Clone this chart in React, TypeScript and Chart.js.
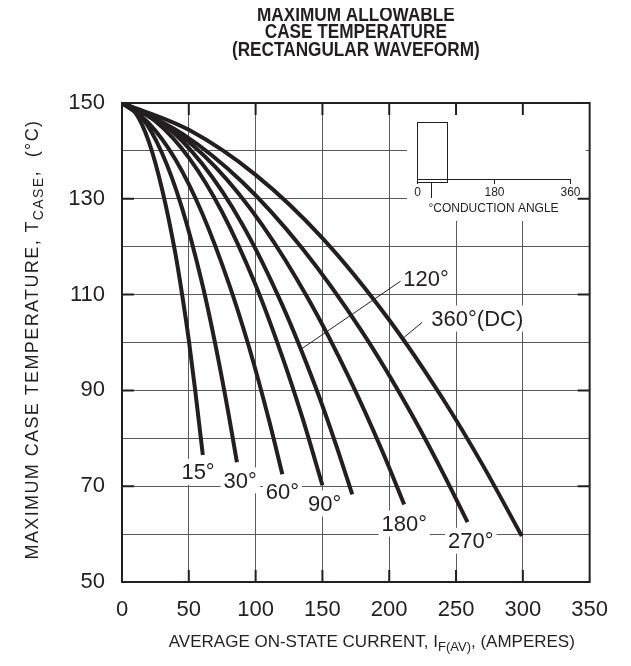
import React, { useEffect, useRef } from 'react';
import { Chart, registerables } from 'chart.js';

Chart.register(...registerables);

const FONT = '"Liberation Sans", Arial, Helvetica, sans-serif';
const INK = '#231f20';
const GRID = '#5a5a5a';

// ---- data ----
const titleLines = ['MAXIMUM ALLOWABLE', 'CASE TEMPERATURE', '(RECTANGULAR WAVEFORM)'];
const xTickValues = [0, 50, 100, 150, 200, 250, 300, 350];
const yLabelledTicks = [50, 70, 90, 110, 130, 150];

const curveNames = ['15°', '30°', '60°', '90°', '120°', '180°', '270°', '360°(DC)'];

const i15 = [0, 10, 20, 30, 40, 45, 50, 55, 60.5];
const t15 = [150, 148, 142, 132, 118.5, 110, 100.5, 89.5, 76.5];

const i30 = [0, 15, 30, 45, 60, 70, 80, 86];
const t30 = [150, 146.9, 139.5, 128, 112.3, 99.4, 84.7, 75];

const i60 = [0, 20, 40, 60, 80, 95, 110, 120];
const t60 = [150, 145.8, 138.2, 127, 112.3, 99.1, 83.8, 72.5];

const i90 = [0, 25, 50, 75, 100, 120, 135, 150];
const t90 = [150, 146.2, 138.6, 127.2, 112, 97, 84.3, 70.2];

const i120 = [0, 30, 60, 90, 120, 145, 160, 172.3];
const t120 = [150, 145.8, 137.3, 124.7, 107.8, 90.6, 78.8, 68.3];

const i180 = [0, 35, 70, 105, 140, 170, 195, 211.2];
const t180 = [150, 145, 136.6, 124.5, 108.8, 92.6, 77.2, 66.2];

const i270 = [0, 45, 90, 135, 180, 215, 240, 258.6];
const t270 = [150, 143.6, 133.5, 119.6, 102.1, 85.9, 72.9, 62.5];

const i360 = [0, 50, 100, 150, 200, 240, 270, 299.2];
const t360 = [150, 144.4, 135, 121.8, 104.7, 88.3, 74.4, 59.6];

// curve label anchors (current, temperature)
const labelI = [56.9, 88.5, 120.1, 151.7, 227.5, 211.2, 261.0, 265.9];
const labelT = [73.0, 71.2, 68.8, 66.4, 113.2, 62.2, 58.6, 105.0];

// leader lines for 120° and 360°(DC)
const leaderStartI = [208.5, 224.6];
const leaderStartT = [112.8, 104.2];
const leaderEndI = [133.5, 211.2];
const leaderEndT = [98.5, 101.1];

// inset axis labels
const insetTicks = ['0', '180', '360'];
const insetTitle = '°CONDUCTION ANGLE';

const series = [
  [i15, t15], [i30, t30], [i60, t60], [i90, t90],
  [i120, t120], [i180, t180], [i270, t270], [i360, t360],
];

function drawRich(ctx: CanvasRenderingContext2D, parts: [string, boolean][], x: number, y: number, size: number, targetLen?: number) {
  const big = `${size}px ${FONT}`;
  const small = `${Math.round(size * 0.75)}px ${FONT}`;
  (ctx as any).letterSpacing = '0px';
  let total = 0;
  let chars = 0;
  parts.forEach(([t, sub]) => {
    ctx.font = sub ? small : big;
    total += ctx.measureText(t).width;
    chars += t.length;
  });
  let spacing = 0;
  if (targetLen && targetLen > total) spacing = (targetLen - total) / chars;
  (ctx as any).letterSpacing = `${spacing}px`;
  const full = total + spacing * chars;
  let cx = x - full / 2;
  ctx.textAlign = 'left';
  ctx.textBaseline = 'middle';
  parts.forEach(([t, sub]) => {
    ctx.font = sub ? small : big;
    ctx.fillText(t, cx, y + (sub ? size * 0.32 : 0));
    cx += ctx.measureText(t).width;
  });
  (ctx as any).letterSpacing = '0px';
}

const LABEL_SIZE = 22;

const annotPlugin = {
  id: 'annot',
  beforeDatasetsDraw(chart: any) {
    const { ctx, chartArea: ca, scales } = chart;
    const xs = scales.x, ys = scales.y;
    ctx.save();
    ctx.fillStyle = '#fff';
    // inset white area
    ctx.fillRect(ca.left + 285, ca.top + 1, ca.right - ca.left - 289, 117);
    // label backgrounds
    ctx.font = `${LABEL_SIZE}px ${FONT}`;
    curveNames.forEach((name, k) => {
      const w = ctx.measureText(name).width;
      const px = xs.getPixelForValue(labelI[k]);
      const py = ys.getPixelForValue(labelT[k]);
      ctx.fillRect(px - w / 2 - 3, py - 13, w + 6, 26);
    });
    ctx.restore();
  },
  afterDatasetsDraw(chart: any) {
    const { ctx, chartArea: ca, scales } = chart;
    const xs = scales.x, ys = scales.y;
    ctx.save();
    ctx.fillStyle = INK;
    ctx.strokeStyle = INK;

    // curve labels
    ctx.font = `${LABEL_SIZE}px ${FONT}`;
    ctx.textAlign = 'center';
    ctx.textBaseline = 'middle';
    curveNames.forEach((name, k) => {
      ctx.fillText(name, xs.getPixelForValue(labelI[k]), ys.getPixelForValue(labelT[k]) + 1);
    });

    // leaders
    ctx.lineWidth = 1;
    leaderStartI.forEach((_, k) => {
      ctx.beginPath();
      ctx.moveTo(xs.getPixelForValue(leaderStartI[k]), ys.getPixelForValue(leaderStartT[k]));
      ctx.lineTo(xs.getPixelForValue(leaderEndI[k]), ys.getPixelForValue(leaderEndT[k]));
      ctx.stroke();
    });

    // inner tick marks
    ctx.lineWidth = 2;
    ctx.beginPath();
    yLabelledTicks.forEach((v) => {
      if (v === 50 || v === 150) return;
      const py = ys.getPixelForValue(v);
      ctx.moveTo(ca.left, py); ctx.lineTo(ca.left + 12, py);
      ctx.moveTo(ca.right - 12, py); ctx.lineTo(ca.right, py);
    });
    xTickValues.forEach((v) => {
      if (v === 0 || v === 350) return;
      const px = xs.getPixelForValue(v);
      ctx.moveTo(px, ca.top); ctx.lineTo(px, ca.top + 12);
      ctx.moveTo(px, ca.bottom - 12); ctx.lineTo(px, ca.bottom);
    });
    ctx.stroke();

    // border
    ctx.lineWidth = 2;
    ctx.strokeRect(ca.left, ca.top, ca.right - ca.left, ca.bottom - ca.top);

    // inset
    const ox = ca.left, oy = ca.top;
    ctx.lineWidth = 1;
    ctx.strokeRect(ox + 295.5, oy + 19.5, 30, 57);
    ctx.strokeRect(ox + 295.5, oy + 76.5, 30, 3);
    ctx.beginPath();
    ctx.moveTo(ox + 295, oy + 76.5); ctx.lineTo(ox + 449, oy + 76.5);
    [295.5, 372.5, 448.5].forEach((tx) => { ctx.moveTo(ox + tx, oy + 76.5); ctx.lineTo(ox + tx, oy + 81); });
    ctx.moveTo(ox + 309.5, oy + 80); ctx.lineTo(ox + 309.5, oy + 95);
    ctx.stroke();
    ctx.font = `12px ${FONT}`;
    ctx.textAlign = 'center';
    ctx.textBaseline = 'middle';
    [295.5, 372.5, 448.5].forEach((tx, k) => ctx.fillText(insetTicks[k], ox + tx, oy + 90));
    ctx.fillText(insetTitle, ox + 371.5, oy + 106);

    // chart title (slightly condensed bold)
    const cx = (ca.left + ca.right) / 2;
    ctx.save();
    ctx.font = `bold 20px ${FONT}`;
    ctx.translate(cx, 0);
    ctx.scale(0.86, 1);
    titleLines.forEach((t, k) => ctx.fillText(t, 0, 7 + k * 17.5));
    ctx.restore();

    // axis titles
    drawRich(ctx, [['AVERAGE ON-STATE CURRENT, I', false], ['F(AV)', true], [', (AMPERES)', false]], cx + 16, 634, 17);
    ctx.translate(25, (ca.top + ca.bottom) / 2 - 3);
    ctx.rotate(-Math.PI / 2);
    drawRich(ctx, [['MAXIMUM CASE TEMPERATURE, T', false], ['CASE', true], [',  (°C)', false]], 0, 0, 18, 440);
    ctx.restore();
  },
};

export default function App() {
  const ref = useRef<HTMLCanvasElement>(null);
  useEffect(() => {
    Chart.defaults.font.family = FONT;
    const chart = new Chart(ref.current!, {
      type: 'line',
      data: {
        datasets: series.map(([xs, ys], k) => ({
          label: curveNames[k],
          data: xs.map((x, i) => ({ x, y: ys[i] })),
          borderColor: INK,
          borderWidth: 4,
          pointRadius: 0,
          fill: false,
          cubicInterpolationMode: 'monotone' as const,
        })),
      },
      options: {
        responsive: false,
        animation: false,
        layout: { padding: { top: 95, right: 21, left: 0, bottom: 0 } },
        plugins: { legend: { display: false }, tooltip: { enabled: false }, title: { display: false } },
        scales: {
          x: {
            type: 'linear',
            min: 0,
            max: 350,
            afterFit: (s: any) => { s.height = 76; },
            afterBuildTicks: (s: any) => { s.ticks = xTickValues.map((v) => ({ value: v })); },
            grid: { color: GRID, lineWidth: 1, drawTicks: false },
            border: { display: false },
            ticks: { color: INK, font: { size: 22 }, padding: 15, maxRotation: 0, autoSkip: false },
          },
          y: {
            type: 'linear',
            min: 50,
            max: 150,
            afterFit: (s: any) => { s.width = 114; },
            ticks: {
              stepSize: 10,
              color: INK,
              font: { size: 22 },
              padding: 17,
              autoSkip: false,
              callback: (v: any) => (yLabelledTicks.includes(Number(v)) ? String(v) : ''),
            },
            grid: { color: GRID, lineWidth: 1, drawTicks: false },
            border: { display: false },
          },
        },
      },
      plugins: [annotPlugin],
    });
    return () => chart.destroy();
  }, []);
  return <canvas ref={ref} width={615} height={650} />;
}
